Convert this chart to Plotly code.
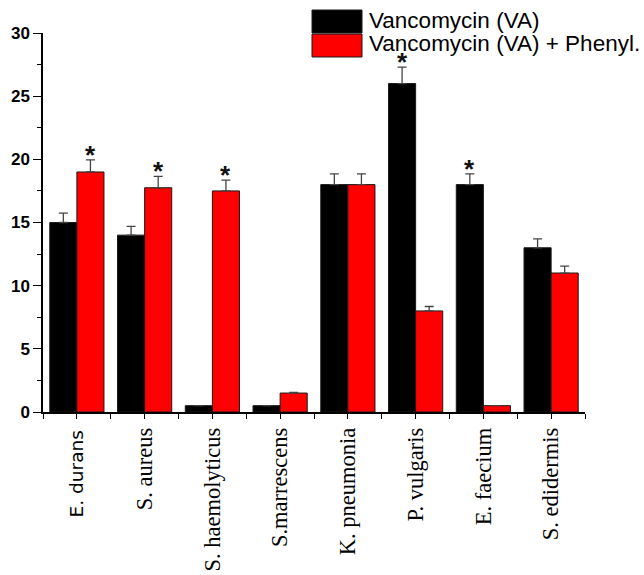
import plotly.graph_objects as go

# Bacterial strains on the x axis
species = ["E. durans", "S. aureus", "S. haemolyticus", "S.marrescens",
           "K. pneumonia", "P. vulgaris", "E. faecium", "S. edidermis"]
series_names = ["Vancomycin (VA)", "Vancomycin (VA) + Phenyl."]

# Vancomycin alone
va = [15, 14, 0.5, 0.5, 18, 26, 18, 13]
va_err = [0.75, 0.7, None, None, 0.85, 1.3, 0.85, 0.7]
va_sig = [False, False, False, False, False, True, True, False]

# Vancomycin + phenyl compound
va_ph = [19, 17.75, 17.5, 1.5, 18, 8, 0.5, 11]
va_ph_err = [0.95, 0.9, 0.85, 0.05, 0.85, 0.35, None, 0.55]
va_ph_sig = [True, True, True, False, False, False, False, False]

y_ticks = [0, 5, 10, 15, 20, 25, 30]

colors = ["#000000", "#ff0000"]
pos = list(range(len(species)))

W, H = 644, 575
ML, MR, MT, MB = 43, 59, 33, 163
PW, PH = W - ML - MR, H - MT - MB


def px_x(px):
    return (px - ML) / PW


def px_y(py):
    return (H - MB - py) / PH


fig = go.Figure()
for name, vals, errs, col in [(series_names[0], va, va_err, colors[0]),
                              (series_names[1], va_ph, va_ph_err, colors[1])]:
    fig.add_trace(go.Bar(
        x=pos, y=vals, name=name,
        marker=dict(color=col, line=dict(color="#1a1a1a", width=1)),
        error_y=dict(type="data", symmetric=False, array=errs,
                     arrayminus=[0] * len(errs),
                     color="#444444", thickness=1.3, width=4.5),
        showlegend=False,
    ))

# significance markers above the bars
annotations = []
for vals, errs, sig, off in [(va, va_err, va_sig, -0.2),
                             (va_ph, va_ph_err, va_ph_sig, 0.2)]:
    for i, (v, e, s) in enumerate(zip(vals, errs, sig)):
        if s:
            annotations.append(dict(
                x=i + off, y=v + (e or 0), xref="x", yref="y",
                text="<b>*</b>", showarrow=False, yanchor="bottom",
                yshift=-12, font=dict(family="Liberation Sans", size=26, color="#111")))

# legend drawn as boxes with labels
shapes = []
box_rows = [(10, 33), (34, 57)]
for (top, bot), col, name in zip(box_rows, colors, series_names):
    shapes.append(dict(type="rect", xref="paper", yref="paper",
                       x0=px_x(312), x1=px_x(362), y0=px_y(bot), y1=px_y(top),
                       fillcolor=col, line=dict(color="#1a1a1a", width=1)))
    annotations.append(dict(
        x=px_x(367), y=px_y((top + bot) / 2 - 1.5), xref="paper", yref="paper",
        text=name, showarrow=False, xanchor="left", yanchor="middle",
        font=dict(family="Liberation Sans", size=22.5, color="#000")))

# first strain label is set in a sans face, the rest in serif
tick_text = [""] + species[1:]
annotations.append(dict(
    x=pos[0], y=px_y(428), xref="x", yref="paper", text=species[0],
    textangle=-90, showarrow=False, xanchor="center", yanchor="top",
    font=dict(family="DejaVu Sans", size=18.5, color="#000")))

fig.update_layout(
    width=W, height=H,
    margin=dict(l=ML, r=MR, t=MT, b=MB),
    paper_bgcolor="white", plot_bgcolor="white",
    barmode="group", bargap=0.2, bargroupgap=0,
    shapes=shapes, annotations=annotations,
    xaxis=dict(
        range=[-0.5, len(species) - 0.5], tickmode="array",
        tickvals=pos, ticktext=tick_text, tickangle=-90, automargin=False,
        ticks="outside", ticklen=5, tickwidth=1.3, tickcolor="#000",
        minor=dict(tick0=-0.5, dtick=1, ticks="outside", ticklen=5,
                   tickwidth=1.3, tickcolor="#000"),
        showline=True, linecolor="#000", linewidth=1.5,
        showgrid=False, zeroline=False,
        tickfont=dict(family="Liberation Serif", size=22.5, color="#000"),
    ),
    yaxis=dict(
        range=[0, 30], tickmode="array", tickvals=y_ticks, automargin=False,
        ticks="outside", ticklen=8, tickwidth=1.3, tickcolor="#000",
        minor=dict(dtick=2.5, ticks="outside", ticklen=4,
                   tickwidth=1.3, tickcolor="#000"),
        showline=True, linecolor="#000", linewidth=1.5,
        showgrid=False, zeroline=False,
        tickfont=dict(family="Liberation Sans", size=17, color="#000", weight="bold"),
    ),
)

fig.write_html("out.html")
